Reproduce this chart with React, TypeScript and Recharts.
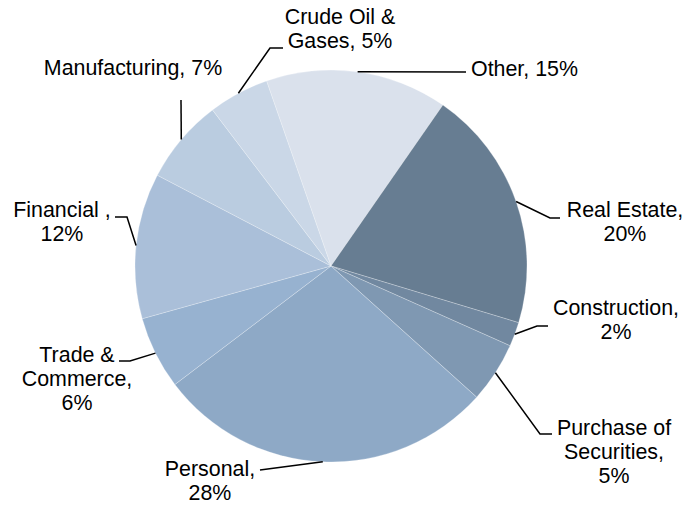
import React from "react";
import { PieChart, Pie, Cell } from "recharts";

// loan book by sector, clockwise from "Other"
const categories = [
  "Other",
  "Real Estate",
  "Construction",
  "Purchase of Securities",
  "Personal",
  "Trade & Commerce",
  "Financial",
  "Manufacturing",
  "Crude Oil & Gases",
];
const shares = [15, 20, 2, 5, 28, 6, 12, 7, 5];
const labelText = [
  ["Other, 15%"],
  ["Real Estate,", "20%"],
  ["Construction,", "2%"],
  ["Purchase of", "Securities,", "5%"],
  ["Personal,", "28%"],
  ["Trade &", "Commerce,", "6%"],
  ["Financial ,", "12%"],
  ["Manufacturing, 7%"],
  ["Crude Oil &", "Gases, 5%"],
];
const colors = [
  "#DAE1EC",
  "#677D92",
  "#7188A0",
  "#7F98B2",
  "#8EA9C6",
  "#97B2D0",
  "#AABFD9",
  "#BACCE0",
  "#CAD7E7",
];

// leader line bends and text placement for each label
const labelLayout = [
  { pts: [[466, 72]], tx: 471, ty: 69, anchor: "start" },
  { pts: [[550, 218], [560, 218]], tx: 625, ty: 210, anchor: "middle" },
  { pts: [[537, 326], [548, 326]], tx: 616, ty: 308, anchor: "middle" },
  { pts: [[540, 434], [552, 434]], tx: 614, ty: 428, anchor: "middle" },
  { pts: [[260, 470]], tx: 210, ty: 469, anchor: "middle" },
  { pts: [[130, 361], [119, 361]], tx: 77, ty: 355, anchor: "middle" },
  { pts: [[127, 217], [115, 217]], tx: 62, ty: 210, anchor: "middle" },
  { pts: [[181, 100]], tx: 133, ty: 68, anchor: "middle" },
  { pts: [[270, 48], [283, 48]], tx: 340, ty: 17, anchor: "middle" },
];

const data = categories.map((name, i) => ({ name, value: shares[i] }));

const RADIAN = Math.PI / 180;
const LINE_H = 24;

function renderLabel(props: any) {
  const { cx, cy, midAngle, outerRadius, index } = props;
  const ex = cx + outerRadius * Math.cos(-midAngle * RADIAN);
  const ey = cy + outerRadius * Math.sin(-midAngle * RADIAN);
  const lay = labelLayout[index];
  const points = [[ex, ey], ...lay.pts].map((p) => p.join(",")).join(" ");
  return (
    <g key={`lbl-${index}`}>
      <polyline points={points} fill="none" stroke="#000" strokeWidth={1.5} />
      <text
        x={lay.tx}
        y={lay.ty}
        textAnchor={lay.anchor as any}
        dominantBaseline="central"
        fill="#000"
        fontSize={21.4}
        fontFamily="'Liberation Sans', Arial, sans-serif"
      >
        {labelText[index].map((line, j) => (
          <tspan key={j} x={lay.tx} y={lay.ty + j * LINE_H}>
            {line}
          </tspan>
        ))}
      </text>
    </g>
  );
}

export default function App() {
  return (
    <div style={{ position: "absolute", left: 0, top: 0, width: 686, height: 505, background: "#fff" }}>
      <PieChart width={686} height={505} margin={{ top: 0, right: 0, bottom: 0, left: 0 }}>
        <Pie
          data={data}
          dataKey="value"
          nameKey="name"
          cx={331}
          cy={266}
          outerRadius={196}
          startAngle={109.2}
          endAngle={-250.8}
          stroke="#ffffff"
          strokeWidth={0.5}
          strokeOpacity={0.5}
          label={renderLabel}
          labelLine={false}
          isAnimationActive={false}
        >
          {data.map((d, i) => (
            <Cell key={d.name} fill={colors[i]} />
          ))}
        </Pie>
      </PieChart>
    </div>
  );
}
